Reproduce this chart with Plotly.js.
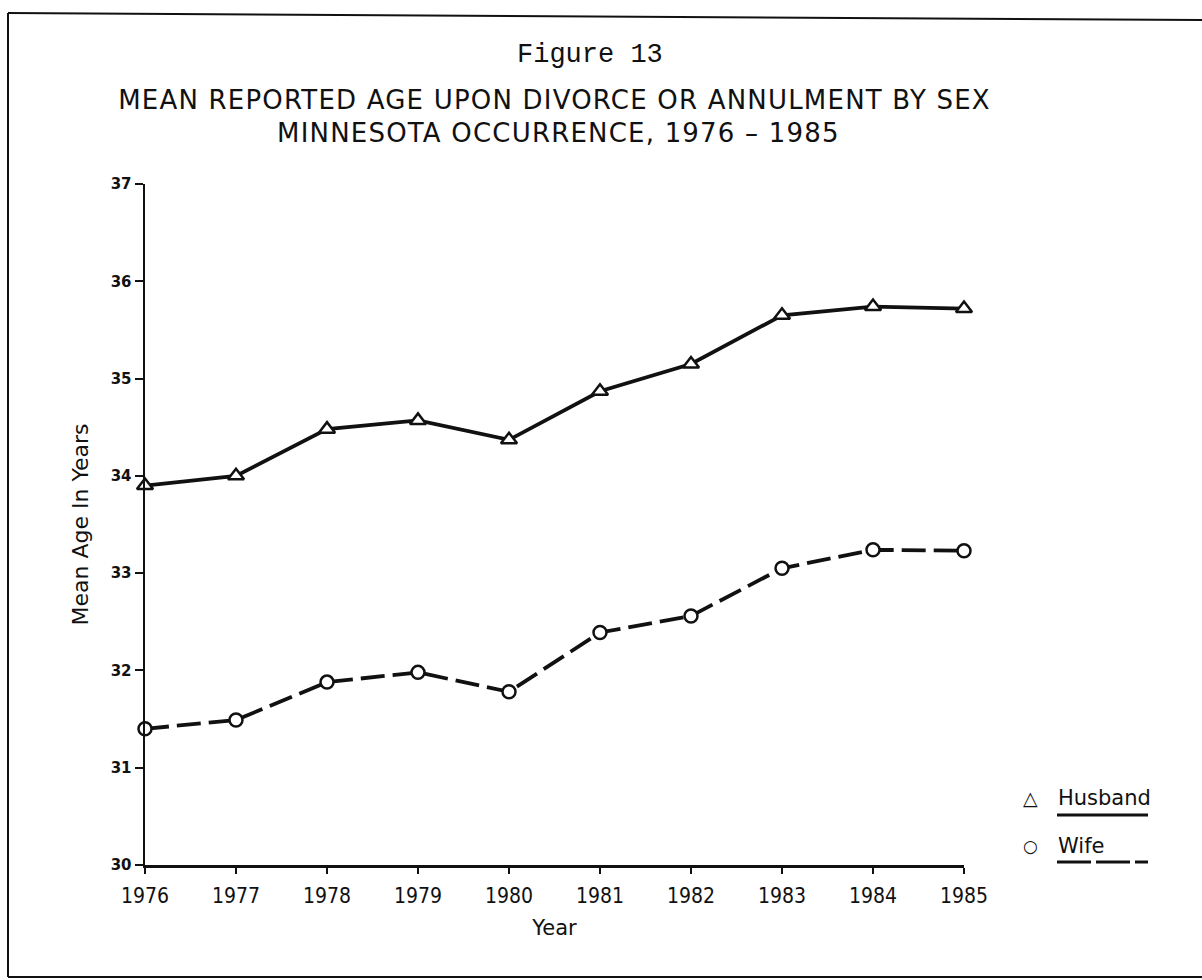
<!DOCTYPE html>
<html>
<head>
<meta charset="utf-8">
<script src="https://cdn.plot.ly/plotly-3.0.1.min.js"></script>
<style>
  body { margin: 0; background: #fff; }
  #myGraph { width: 1202px; height: 980px; }
</style>
</head>
<body>
<div id="myGraph"></div>
<script>
"use strict";

// data
var years = [1976, 1977, 1978, 1979, 1980, 1981, 1982, 1983, 1984, 1985];
var husband = [33.9, 34.0, 34.48, 34.57, 34.37, 34.87, 35.15, 35.65, 35.74, 35.72];
var wife = [31.4, 31.49, 31.88, 31.98, 31.78, 32.39, 32.56, 33.05, 33.24, 33.23];
var yTicks = [30, 31, 32, 33, 34, 35, 36, 37];

drawChart('myGraph');

function drawChart(id) {
    var ink = '#111';
    var letterFont = 'DejaVu Sans, sans-serif';
    var narrowFont = 'DejaVu Sans Condensed, DejaVu Sans, sans-serif';

    // plot area in pixels, used to place the paper-referenced extras
    var L = 145, R = 964, T = 184, B = 865;
    function px(x) { return (x - L) / (R - L); }
    function py(y) { return (B - y) / (B - T); }
    function spaced(s, sp) { return '<span style="letter-spacing:' + sp + 'px">' + s + '</span>'; }

    // husband line, solid
    var line1 = {
        x: years,
        y: husband,
        mode: 'lines+markers',
        name: 'Husband',
        cliponaxis: false,
        line: {color: ink, width: 3.8},
        marker: {symbol: 'triangle-up', size: 14, color: '#fff',
                 line: {color: ink, width: 2.5}}
    };
    // wife line, dashed
    var line2 = {
        x: years,
        y: wife,
        mode: 'lines+markers',
        name: 'Wife',
        cliponaxis: false,
        line: {color: ink, width: 3.8, dash: '24px,8px'},
        marker: {symbol: 'circle', size: 13, color: '#fff',
                 line: {color: ink, width: 2.5}}
    };

    var annotations = [
        {text: 'Figure 13', xref: 'paper', yref: 'paper', x: px(590), y: py(55),
         xanchor: 'center', yanchor: 'middle', showarrow: false,
         font: {family: 'Liberation Mono, monospace', size: 27, color: ink}},
        {text: spaced('MINNESOTA OCCURRENCE, 1976 \u2013 1985', 1.2),
         xref: 'paper', yref: 'paper', x: px(558), y: py(133),
         xanchor: 'center', yanchor: 'middle', showarrow: false,
         font: {family: letterFont, size: 26, color: ink}},
        // legend drawn by hand (symbol, name, line sample under it)
        {text: '\u25B3', xref: 'paper', yref: 'paper', x: px(1030), y: py(798),
         xanchor: 'center', yanchor: 'middle', showarrow: false,
         font: {family: letterFont, size: 19, color: ink}},
        {text: 'Husband', xref: 'paper', yref: 'paper', x: px(1056), y: py(798),
         xanchor: 'left', yanchor: 'middle', showarrow: false,
         font: {family: letterFont, size: 21, color: ink}},
        {text: '\u25CB', xref: 'paper', yref: 'paper', x: px(1030), y: py(846),
         xanchor: 'center', yanchor: 'middle', showarrow: false,
         font: {family: letterFont, size: 17, weight: 'bold', color: ink}},
        {text: 'Wife', xref: 'paper', yref: 'paper', x: px(1056), y: py(846),
         xanchor: 'left', yanchor: 'middle', showarrow: false,
         font: {family: letterFont, size: 21, color: ink}}
    ];

    var shapes = [
        {type: 'line', xref: 'paper', yref: 'paper',
         x0: px(1057), x1: px(1148), y0: py(815), y1: py(815),
         line: {color: ink, width: 3}},
        {type: 'line', xref: 'paper', yref: 'paper',
         x0: px(1057), x1: px(1148), y0: py(862), y1: py(862),
         line: {color: ink, width: 3, dash: '34px,5px'}},
        // page frame: left, top, bottom
        {type: 'line', xref: 'paper', yref: 'paper',
         x0: px(8), x1: px(8), y0: py(977), y1: py(13),
         line: {color: ink, width: 2}},
        {type: 'line', xref: 'paper', yref: 'paper',
         x0: px(8), x1: px(1202), y0: py(13), y1: py(20),
         line: {color: ink, width: 2}},
        {type: 'line', xref: 'paper', yref: 'paper',
         x0: px(8), x1: px(1202), y0: py(977), y1: py(977),
         line: {color: ink, width: 2}}
    ];

    var layout = {
        width: 1202,
        height: 980,
        autosize: false,
        showlegend: false,
        paper_bgcolor: '#fff',
        plot_bgcolor: '#fff',
        margin: {l: L, r: 1202 - R, t: T, b: 980 - B, pad: 0},
        title: {
            text: spaced('MEAN REPORTED AGE UPON DIVORCE OR ANNULMENT BY SEX', 1.2),
            font: {family: letterFont, size: 26, color: ink},
            xref: 'paper', x: 0.5,
            yref: 'container', y: 1 - 100 / 980, yanchor: 'middle'
        },
        xaxis: {
            range: [1976, 1985],
            tickvals: years,
            ticktext: years.map(String),
            ticks: 'outside', ticklen: 6, tickwidth: 2, tickcolor: ink,
            ticklabelstandoff: 4,
            showline: true, linewidth: 2.5, linecolor: ink,
            showgrid: false, zeroline: false,
            tickfont: {family: narrowFont, size: 21, color: ink},
            title: {text: 'Year', standoff: 14,
                    font: {family: letterFont, size: 21, color: ink}}
        },
        yaxis: {
            range: [30, 37],
            tickvals: yTicks,
            ticks: 'outside', ticklen: 8, tickwidth: 2, tickcolor: ink,
            showline: true, linewidth: 2.5, linecolor: ink,
            showgrid: false, zeroline: false,
            tickfont: {family: letterFont, size: 15, weight: 'bold', color: ink},
            title: {text: 'Mean Age In Years', standoff: 16,
                    font: {family: letterFont, size: 22, color: ink}}
        },
        annotations: annotations,
        shapes: shapes
    };

    Plotly.newPlot(id, [line1, line2], layout, {staticPlot: true, displayModeBar: false});
}
</script>
</body>
</html>
